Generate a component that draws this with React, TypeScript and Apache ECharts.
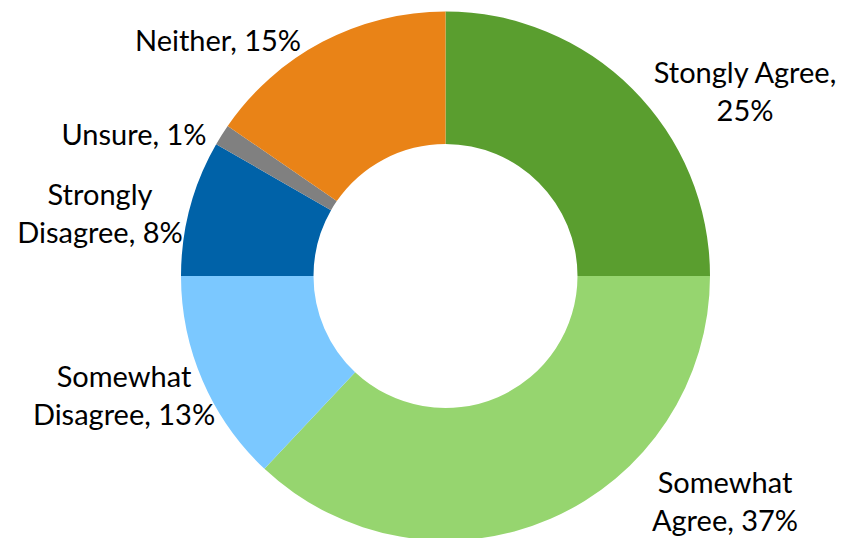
import React, { useEffect, useRef } from "react";
import * as echarts from "echarts";

const categories = ["Stongly Agree", "Somewhat Agree", "Somewhat Disagree", "Strongly Disagree", "Unsure", "Neither"];
const values = [25, 37, 13, 8.3, 1.3, 15.4];
const colors = ["#5A9E2F", "#96D56F", "#7BC8FF", "#0062A8", "#808080", "#E98317"];
// number of words on the first label line (0 = no wrap)
const firstLineWords = [2, 1, 1, 1, 0, 0];
// label block centres (layout)
const labelPos: [number, number][] = [
  [745, 90],
  [725, 500],
  [124, 394],
  [100, 212],
  [134, 133],
  [218, 39],
];

export default function App() {
  const ref = useRef<HTMLDivElement>(null);
  useEffect(() => {
    document.body.style.margin = "0";
    const chart = echarts.init(ref.current!, null, { renderer: "svg" });
    chart.setOption({
      animation: false,
      backgroundColor: "#ffffff",
      series: [
        {
          type: "pie",
          center: [445.5, 276],
          radius: [132, 264.5],
          startAngle: 90,
          clockwise: true,
          avoidLabelOverlap: false,
          data: categories.map((c, i) => ({ name: c, value: values[i], itemStyle: { color: colors[i] } })),
          label: {
            show: true,
            position: "outside",
            fontFamily: "Lato",
            fontSize: 29,
            lineHeight: 38,
            color: "#000",
            align: "center",
            formatter: (p: any) => {
              const words = `${p.name}, ${Math.round(p.value)}%`.split(" ");
              const n = firstLineWords[p.dataIndex];
              if (!n) return words.join(" ");
              return words.slice(0, n).join(" ") + "\n" + words.slice(n).join(" ");
            },
          },
          labelLayout: (params: any) => {
            const pos = labelPos[params.dataIndex];
            return { x: pos[0], y: pos[1], align: "center", verticalAlign: "middle" };
          },
          labelLine: { show: false },
          itemStyle: { borderWidth: 0 },
          emphasis: { disabled: true },
        },
      ],
    });
    return () => chart.dispose();
  }, []);
  return <div ref={ref} style={{ width: 847, height: 538 }} />;
}
